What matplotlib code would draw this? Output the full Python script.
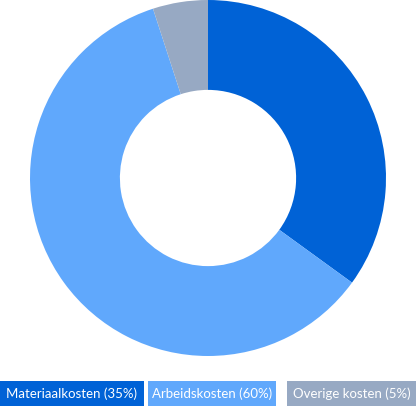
import matplotlib
matplotlib.use("Agg")
import matplotlib.pyplot as plt
from matplotlib.patches import Rectangle

labels = ["Materiaalkosten", "Arbeidskosten", "Overige kosten"]
shares = [35, 60, 5]
colors = ["#0062d6", "#60a8fc", "#97a9c3"]

W, H = 416, 407
fig = plt.figure(figsize=(W / 100, H / 100), dpi=100)

# donut: center (208,178) px, radius 178 px
r = 178
ax = fig.add_axes([(208 - r) / W, (H - 178 - r) / H, 2 * r / W, 2 * r / H])
ax.pie(shares, colors=colors, startangle=90, counterclock=False,
       wedgeprops=dict(width=0.505, edgecolor="none", linewidth=0))
ax.set_xlim(-1, 1)
ax.set_ylim(-1, 1)
ax.set_aspect("auto")
ax.axis("off")

# legend boxes (pixel extents)
boxes = [(0, 144), (148, 276), (287, 416)]
y0, y1 = 381, 406
for (xa, xb), lab, s, c in zip(boxes, labels, shares, colors):
    fig.patches.append(Rectangle((xa / W, (H - y1) / H), (xb - xa) / W, (y1 - y0) / H,
                                 transform=fig.transFigure, facecolor=c, edgecolor="none"))
    fig.text((xa + xb) / 2 / W, (H - (y0 + y1) / 2) / H, f"{lab} ({s}%)",
             ha="center", va="center", color="white", fontsize=9.5, family="Lato")

fig.savefig("out.png", dpi=100)
